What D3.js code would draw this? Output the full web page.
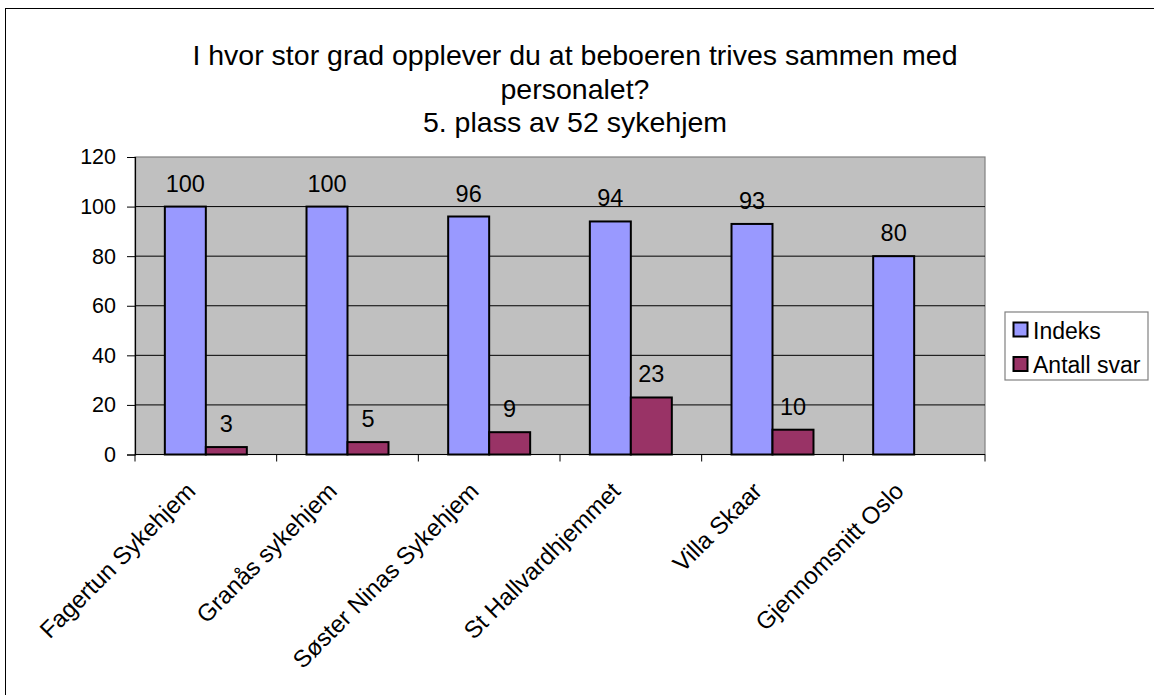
<!DOCTYPE html>
<html>
<head>
<meta charset="utf-8">
<script src="https://cdn.jsdelivr.net/npm/d3@7/dist/d3.min.js"></script>
<style>
  html, body { margin: 0; padding: 0; background: #fff; }
  svg { display: block; font-family: "Liberation Sans", Arial, sans-serif; }
</style>
</head>
<body>
<svg id="chart" width="1154" height="695"></svg>
<script>
const categories = ["Fagertun Sykehjem", "Granås sykehjem", "Søster Ninas Sykehjem", "St Hallvardhjemmet", "Villa Skaar", "Gjennomsnitt Oslo"];
const seriesNames = ["Indeks", "Antall svar"];
const indeks = [100, 100, 96, 94, 93, 80];
const antallSvar = [3, 5, 9, 23, 10, null];
const yTicks = [0, 20, 40, 60, 80, 100, 120];
const titleLines = ["I hvor stor grad opplever du at beboeren trives sammen med", "personalet?", "5. plass av 52 sykehjem"];
const colors = ["#9999FF", "#993366"];

const svg = d3.select("#chart");
const plot = { left: 135, right: 985, top: 157, bottom: 454.5 };

// outer frame (right and bottom edges fall outside the picture)
svg.append("rect").attr("x", 5.5).attr("y", 8.5).attr("width", 1200).attr("height", 720)
  .attr("fill", "#fff").attr("stroke", "#000").attr("stroke-width", 1);

const x0 = d3.scaleBand().domain(categories).range([plot.left, plot.right]).paddingInner(0).paddingOuter(0);
const x1 = d3.scaleBand().domain(seriesNames).range([0, x0.bandwidth()]).paddingInner(0).paddingOuter(0.728);
const y = d3.scaleLinear().domain([0, 120]).range([plot.bottom, plot.top]);

// plot area
svg.append("rect").attr("x", plot.left).attr("y", plot.top)
  .attr("width", plot.right - plot.left).attr("height", plot.bottom - plot.top)
  .attr("fill", "#C0C0C0").attr("stroke", "#808080").attr("stroke-width", 1.2);

// gridlines
svg.append("g").selectAll("line").data(yTicks.filter(t => t > 0 && t < 120)).join("line")
  .attr("x1", plot.left).attr("x2", plot.right)
  .attr("y1", d => y(d)).attr("y2", d => y(d))
  .attr("stroke", "#000").attr("stroke-width", 1);

// y axis
const yAxis = d3.axisLeft(y).tickValues(yTicks).tickSize(8).tickPadding(11).tickFormat(d3.format("d"));
const gy = svg.append("g").attr("transform", `translate(${plot.left},0)`).call(yAxis);
gy.select(".domain").attr("stroke", "#000").attr("stroke-width", 1.2);
gy.selectAll(".tick line").attr("stroke", "#000");
gy.selectAll(".tick text").attr("font-size", 21.5).attr("fill", "#000")
  .attr("font-family", "Liberation Sans, Arial, sans-serif");

// bars
const seriesData = [indeks, antallSvar];
seriesData.forEach((vals, si) => {
  const g = svg.append("g");
  const d = categories.map((c, i) => ({ c, v: vals[i] })).filter(e => e.v !== null);
  g.selectAll("rect").data(d).join("rect")
    .attr("x", e => x0(e.c) + x1(seriesNames[si]))
    .attr("y", e => y(e.v))
    .attr("width", x1.bandwidth())
    .attr("height", e => y(0) - y(e.v))
    .attr("fill", colors[si]).attr("stroke", "#000").attr("stroke-width", 2);
  g.selectAll("text").data(d).join("text")
    .attr("x", e => x0(e.c) + x1(seriesNames[si]) + x1.bandwidth() / 2)
    .attr("y", e => y(e.v) - 15)
    .attr("text-anchor", "middle").attr("font-size", 23.5).attr("fill", "#000")
    .text(e => e.v);
});

// x axis
const xTickPositions = d3.range(categories.length + 1).map(i => plot.left + i * x0.step());
svg.append("line").attr("x1", plot.left).attr("x2", plot.right)
  .attr("y1", plot.bottom).attr("y2", plot.bottom).attr("stroke", "#000").attr("stroke-width", 1.2);
svg.append("g").selectAll("line").data(xTickPositions).join("line")
  .attr("x1", d => d).attr("x2", d => d).attr("y1", plot.bottom).attr("y2", plot.bottom + 7)
  .attr("stroke", "#000").attr("stroke-width", 1);

svg.append("g").selectAll("text").data(categories).join("text")
  .attr("transform", c => `translate(${x0(c) + x0.bandwidth() / 2 - 9},${plot.bottom + 38}) rotate(-45)`)
  .attr("text-anchor", "end").attr("font-size", 24).attr("fill", "#000")
  .text(c => c);

// title
const titleY = [65, 99, 132];
svg.append("g").selectAll("text").data(titleLines).join("text")
  .attr("x", 575).attr("y", (d, i) => titleY[i])
  .attr("text-anchor", "middle").attr("font-size", 28.5).attr("fill", "#000")
  .text(d => d);

// legend
const lg = svg.append("g");
lg.append("rect").attr("x", 1005).attr("y", 312).attr("width", 143).attr("height", 68)
  .attr("fill", "#fff").attr("stroke", "#808080").attr("stroke-width", 1.2);
seriesNames.forEach((s, i) => {
  lg.append("rect").attr("x", 1013.5).attr("y", 322.5 + i * 34.5).attr("width", 14).attr("height", 14)
    .attr("fill", colors[i]).attr("stroke", "#000").attr("stroke-width", 2);
  lg.append("text").attr("x", 1033).attr("y", 338.5 + i * 34).attr("font-size", 23).attr("fill", "#000").text(s);
});
</script>
</body>
</html>
